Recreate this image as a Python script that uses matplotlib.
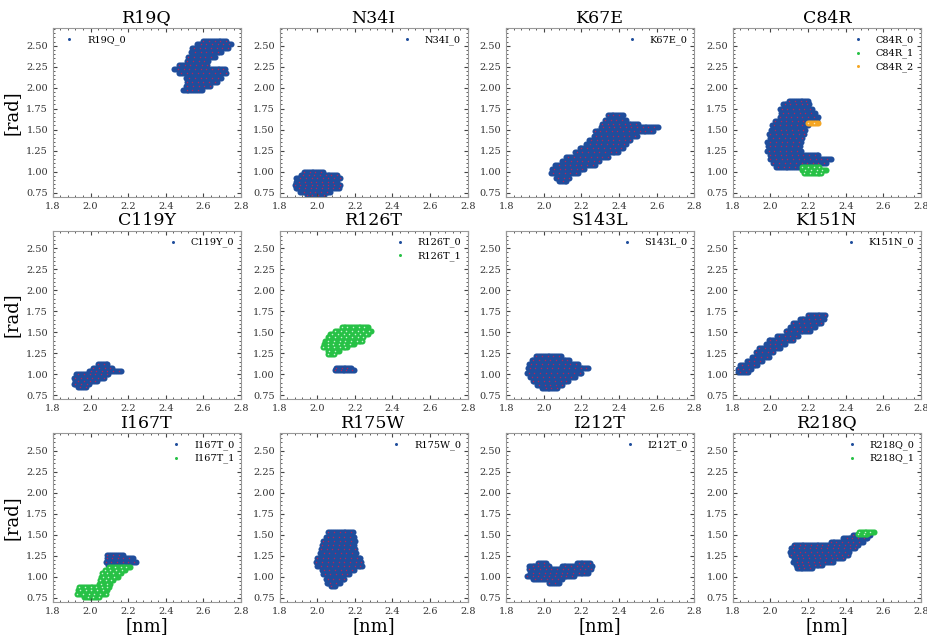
import matplotlib
matplotlib.use("Agg")
import matplotlib.pyplot as plt
import numpy as np
from matplotlib.ticker import MultipleLocator, AutoMinorLocator

plt.rcParams["font.family"] = "serif"
plt.rcParams["font.serif"] = ["DejaVu Serif"]

# each cluster: rows of (y, x_left, x_right)
R19Q_0 = [(2.56, 2.60, 2.72), (2.52, 2.56, 2.75), (2.47, 2.54, 2.73), (2.42, 2.53, 2.70),
          (2.37, 2.52, 2.66), (2.32, 2.51, 2.63), (2.27, 2.47, 2.62), (2.22, 2.44, 2.72),
          (2.17, 2.47, 2.72), (2.12, 2.50, 2.70), (2.07, 2.51, 2.67), (2.02, 2.50, 2.64),
          (1.97, 2.49, 2.59)]
N34I_0 = [(1.00, 1.93, 2.03), (0.96, 1.91, 2.11), (0.92, 1.89, 2.12), (0.88, 1.88, 2.11),
          (0.84, 1.88, 2.12), (0.80, 1.88, 2.12), (0.76, 1.91, 2.07), (0.72, 1.94, 2.04)]
K67E_0 = [(1.67, 2.34, 2.42), (1.62, 2.32, 2.44), (1.57, 2.31, 2.50), (1.53, 2.30, 2.61),
          (1.48, 2.27, 2.58), (1.43, 2.26, 2.50), (1.38, 2.24, 2.46), (1.33, 2.22, 2.44),
          (1.28, 2.19, 2.42), (1.23, 2.16, 2.40), (1.18, 2.12, 2.34), (1.13, 2.09, 2.30),
          (1.08, 2.06, 2.27), (1.03, 2.04, 2.22), (0.98, 2.04, 2.18), (0.93, 2.06, 2.14),
          (0.89, 2.08, 2.12)]
C84R_0 = [(1.84, 2.10, 2.20), (1.80, 2.06, 2.21), (1.75, 2.05, 2.22), (1.70, 2.05, 2.24),
          (1.65, 2.05, 2.25), (1.60, 2.02, 2.25), (1.55, 2.01, 2.20), (1.50, 2.00, 2.19),
          (1.45, 1.99, 2.18), (1.40, 1.99, 2.17), (1.35, 1.98, 2.16), (1.30, 1.98, 2.16),
          (1.25, 1.98, 2.16), (1.20, 1.99, 2.26), (1.15, 2.00, 2.32), (1.10, 2.01, 2.30),
          (1.05, 2.03, 2.16)]
C84R_1 = [(1.05, 2.17, 2.26), (1.02, 2.16, 2.30), (0.99, 2.18, 2.27)]
C84R_2 = [(1.58, 2.20, 2.25)]
C119Y_0 = [(1.12, 2.04, 2.09), (1.08, 2.01, 2.12), (1.04, 1.99, 2.16), (1.00, 1.92, 2.10),
           (0.96, 1.91, 2.07), (0.92, 1.91, 2.04), (0.88, 1.91, 1.99), (0.85, 1.93, 1.98)]
R126T_0 = [(1.08, 2.10, 2.18), (1.05, 2.09, 2.20)]
R126T_1 = [(1.56, 2.13, 2.27), (1.52, 2.09, 2.29), (1.48, 2.07, 2.27), (1.44, 2.05, 2.25),
           (1.40, 2.04, 2.24), (1.36, 2.03, 2.20), (1.32, 2.03, 2.16), (1.28, 2.05, 2.12),
           (1.24, 2.06, 2.09)]
S143L_0 = [(1.22, 1.96, 2.09), (1.17, 1.93, 2.14), (1.12, 1.92, 2.18), (1.07, 1.91, 2.24),
           (1.02, 1.91, 2.20), (0.97, 1.92, 2.17), (0.92, 1.94, 2.13), (0.87, 1.96, 2.10),
           (0.84, 1.99, 2.07)]
K151N_0 = [(1.71, 2.20, 2.29), (1.66, 2.15, 2.29), (1.61, 2.12, 2.27), (1.56, 2.10, 2.24),
           (1.51, 2.08, 2.21), (1.46, 2.03, 2.15), (1.41, 1.99, 2.12), (1.36, 1.97, 2.08),
           (1.31, 1.94, 2.05), (1.26, 1.92, 2.02), (1.21, 1.90, 1.99), (1.16, 1.87, 1.96),
           (1.11, 1.84, 1.93), (1.06, 1.82, 1.90), (1.03, 1.83, 1.88)]
I167T_0 = [(1.26, 2.09, 2.17), (1.22, 2.08, 2.23), (1.18, 2.08, 2.24), (1.14, 2.09, 2.20)]
I167T_1 = [(1.12, 2.10, 2.21), (1.08, 2.07, 2.19), (1.04, 2.06, 2.16), (1.00, 2.05, 2.15),
           (0.96, 2.05, 2.12), (0.92, 2.04, 2.11), (0.88, 1.94, 2.10), (0.84, 1.93, 2.09),
           (0.80, 1.93, 2.08), (0.76, 1.96, 2.05)]
R175W_0 = [(1.53, 2.06, 2.19), (1.48, 2.04, 2.20), (1.43, 2.03, 2.20), (1.38, 2.02, 2.20),
           (1.33, 2.02, 2.20), (1.28, 2.01, 2.21), (1.23, 2.00, 2.23), (1.18, 1.99, 2.24),
           (1.13, 2.00, 2.24), (1.08, 2.02, 2.20), (1.03, 2.03, 2.17), (0.98, 2.04, 2.15),
           (0.93, 2.05, 2.12), (0.89, 2.07, 2.10)]
I212T_0 = [(1.17, 1.97, 2.01), (1.17, 2.17, 2.25), (1.13, 1.92, 2.03), (1.13, 2.09, 2.26),
           (1.09, 1.92, 2.25), (1.05, 1.92, 2.24), (1.01, 1.91, 2.16), (0.97, 1.94, 2.10),
           (0.93, 2.03, 2.08)]
R218Q_0 = [(1.50, 2.44, 2.53), (1.46, 2.38, 2.52), (1.42, 2.32, 2.49), (1.38, 2.12, 2.47),
           (1.34, 2.11, 2.45), (1.30, 2.10, 2.42), (1.26, 2.11, 2.41), (1.22, 2.12, 2.39),
           (1.18, 2.12, 2.33), (1.14, 2.13, 2.28), (1.10, 2.14, 2.22)]
R218Q_1 = [(1.53, 2.47, 2.55), (1.51, 2.46, 2.52)]

titles = ["R19Q", "N34I", "K67E", "C84R", "C119Y", "R126T", "S143L", "K151N",
          "I167T", "R175W", "I212T", "R218Q"]
clusters = [[R19Q_0], [N34I_0], [K67E_0], [C84R_0, C84R_1, C84R_2], [C119Y_0],
            [R126T_0, R126T_1], [S143L_0], [K151N_0], [I167T_0, I167T_1], [R175W_0],
            [I212T_0], [R218Q_0, R218Q_1]]

colors = ["#1f4d9c", "#27c146", "#f5a623"]
specks = ["#b0245a", "#c8f5cf", "#fde2b0"]


def rows_to_points(rows, dx=0.01):
    xs, ys = [], []
    for i, (y, xl, xr) in enumerate(rows):
        x = np.arange(xl + (i % 2) * dx / 2, xr + 1e-9, dx)
        xs.extend(x)
        ys.extend([y] * len(x))
    return np.array(xs), np.array(ys)


fig, axes = plt.subplots(3, 4, figsize=(9.28, 6.38), dpi=100)
fig.subplots_adjust(left=0.057, right=0.9925, top=0.956, bottom=0.0564,
                    wspace=0.204, hspace=0.20)

for k, ax in enumerate(axes.flat):
    name = titles[k]
    for j, rows in enumerate(clusters[k]):
        x, y = rows_to_points(rows)
        ax.scatter(x, y, s=19, color=colors[j], linewidths=0, label=f"{name}_{j}")
        ax.scatter(x[::3], y[::3], s=1.2, color=specks[j], linewidths=0)
    ax.set_title(name, fontsize=12.5, pad=4)
    ax.set_xlim(1.8, 2.8)
    ax.set_ylim(0.70, 2.71)
    ax.xaxis.set_major_locator(MultipleLocator(0.2))
    ax.yaxis.set_major_locator(MultipleLocator(0.25))
    ax.xaxis.set_minor_locator(AutoMinorLocator(5))
    ax.yaxis.set_minor_locator(AutoMinorLocator(5))
    ax.tick_params(which="both", direction="in", top=True, right=True,
                   labelsize=7, colors="#444444", labelcolor="#333333")
    ax.tick_params(which="major", length=3)
    ax.tick_params(which="minor", length=1.5)
    for sp in ax.spines.values():
        sp.set_color("#999999")
    ax.legend(loc="best", frameon=False, fontsize=7, markerscale=0.5,
              handletextpad=0.8, borderaxespad=0.3, labelspacing=0.4)
    if k % 4 == 0:
        ax.set_ylabel("[rad]", fontsize=13)
    if k >= 8:
        ax.set_xlabel("[nm]", fontsize=13, labelpad=1)

fig.savefig("out.png", dpi=100)
